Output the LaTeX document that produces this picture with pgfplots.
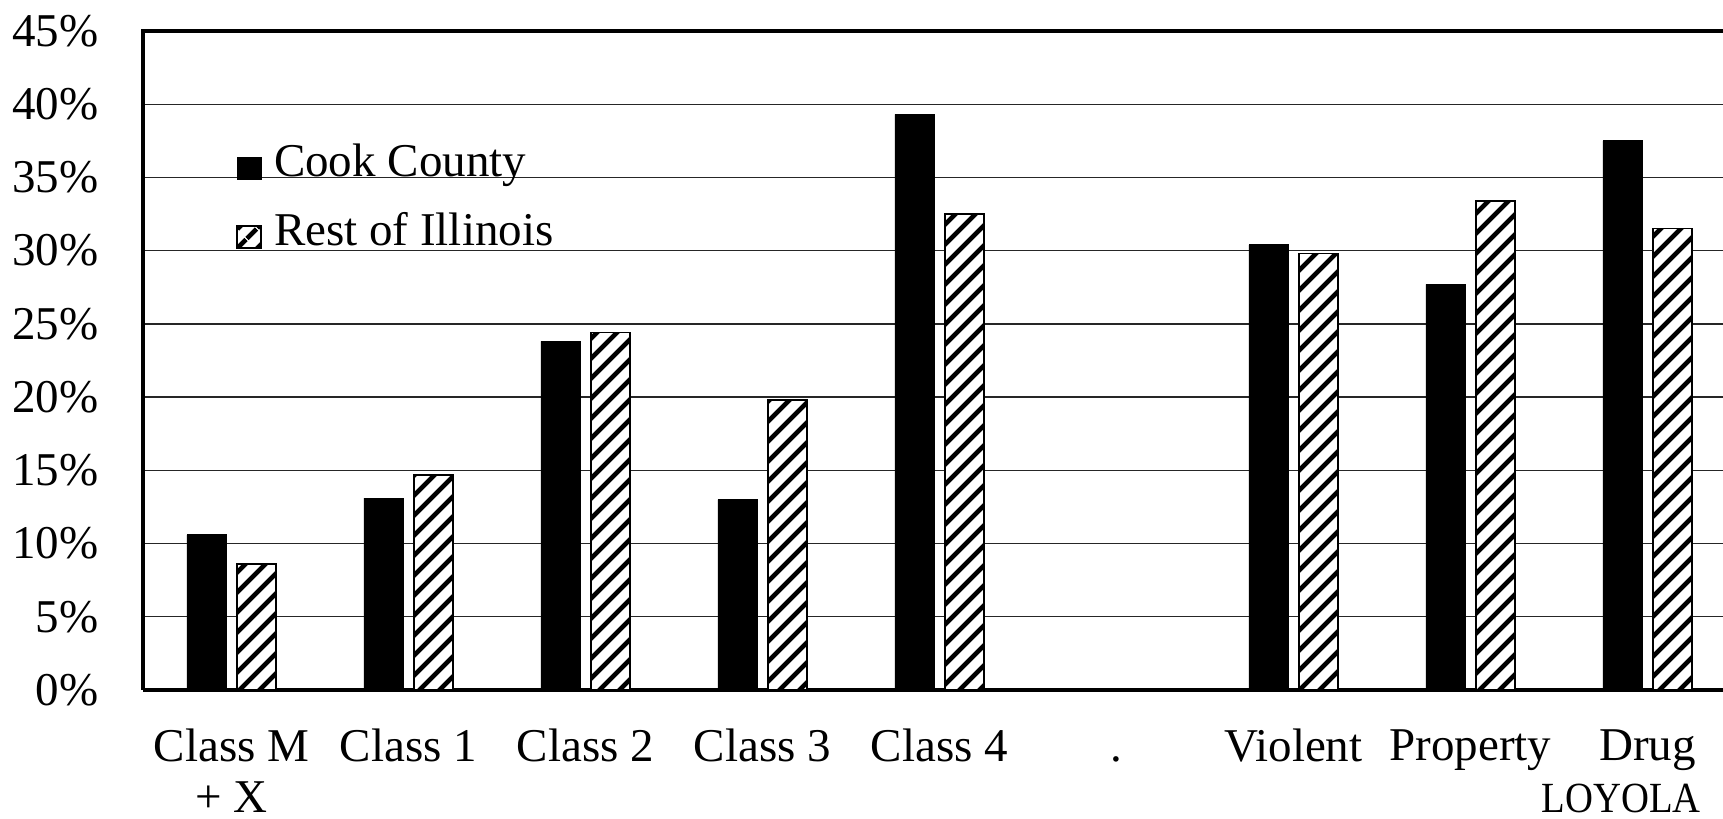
\documentclass[border=0pt]{standalone}
\usepackage{pgfplots}
\pgfplotsset{compat=1.18}
\usepackage{pgfplotstable}
\usepackage{fontspec}
\setmainfont{Liberation Serif}
\usetikzlibrary{patterns.meta}

% share of admissions by offense class, Cook County vs. rest of state
% x = category slot (5 is the empty "." spacer)
\pgfplotstableread{
x cook rest
0 10.6 8.6
1 13.1 14.7
2 23.8 24.4
3 13.0 19.8
4 39.3 32.5
6 30.4 29.8
7 27.7 33.4
8 37.5 31.5
}\offense

\newcommand{\lbl}{\fontsize{23.5}{25.5}\selectfont}

\begin{document}
\begin{tikzpicture}
\begin{axis}[
    name=ax,
    scale only axis,
    width=790pt, height=329.5pt,
    xmin=-0.5, xmax=8.427,
    ymin=0, ymax=45,
    ytick={0,5,...,45},
    yticklabel={\pgfmathprintnumber{\tick}\%},
    xtick={0,...,8},
    xticklabels={{Class M\\+ X},Class 1,Class 2,Class 3,Class 4,{\vphantom{l}.},Violent,Property,Drug},
    major tick length=0pt,
    axis x line*=bottom,
    axis y line*=left,
    x axis line style={-, line width=1.6pt},
    y axis line style={-, line width=2pt},
    ymajorgrids,
    major grid style={black!85, line width=0.7pt},
    /pgf/number format/assume math mode=true,
    tick label style={font=\lbl, inner sep=0pt},
    yticklabel style={xshift=-22pt},
    xticklabel style={align=center, yshift=-19.5pt, text depth=0pt},
    clip=false,
    legend image code/.code={\draw[#1] (0pt,-9pt) rectangle (12pt,2pt);},
    legend cell align=left,
    legend style={
        draw=none, fill=none,
        at={(0.0589,0.8293)}, anchor=north west,
        inner sep=0pt, row sep=16pt,
        font=\lbl,
        nodes={inner sep=0pt},
        /tikz/every odd column/.style={column sep=6pt},
    },
]

\addplot[ybar, bar width=19.5pt, bar shift=-12.5pt, fill=black, draw=black]
    table[x=x, y=cook] {\offense};
\addlegendentry{Cook County}

\addplot[ybar, bar width=19.5pt, bar shift=12.5pt, draw=black, line width=0.8pt,
    fill=white, postaction={pattern={Lines[angle=45, distance=7.4pt, line width=2.5pt]}}]
    table[x=x, y=rest] {\offense};
\addlegendentry{Rest of Illinois}

% top frame line (right side is cut off in the original)
\draw[line width=2pt, line cap=rect] (rel axis cs:0,1) -- (rel axis cs:1,1);

\node[anchor=base, inner sep=0pt, font=\fontsize{21.5}{21.5}\selectfont, text=black]
    at ([yshift=-61.5pt]axis cs:7.853,0) {\scalebox{0.9}[1]{LOYOLA}};
\end{axis}
\pgfresetboundingbox
\path[use as bounding box] ([xshift=-71.5pt, yshift=-64.5pt]ax.south west)
    rectangle ([yshift=15.5pt]ax.north east);
\end{tikzpicture}
\end{document}
